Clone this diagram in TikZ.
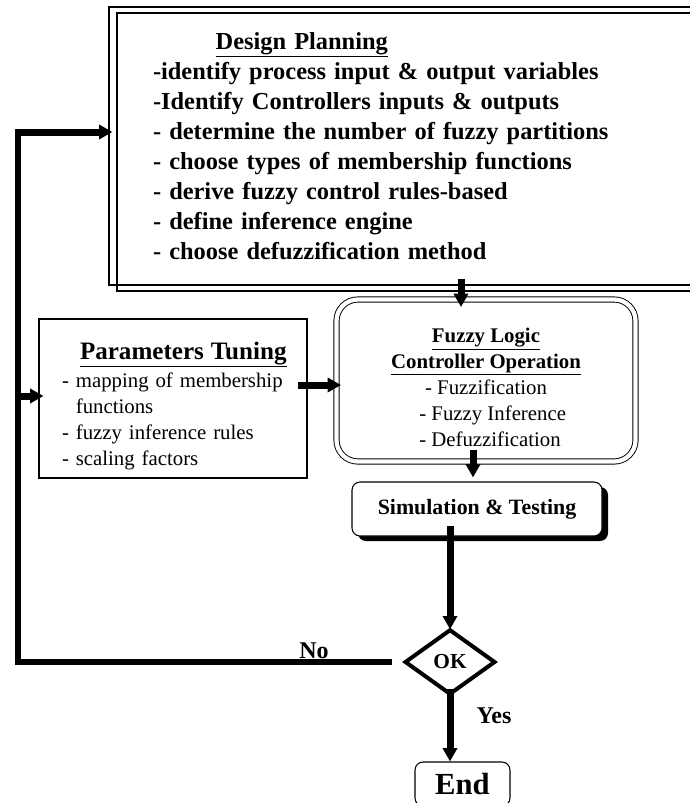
\documentclass[tikz,border=0pt]{standalone}
\usepackage{fontspec}
\setmainfont{Liberation Serif}
\usetikzlibrary{positioning,arrows.meta,shapes.geometric,shadows,calc}

\begin{document}
\begin{tikzpicture}[
  x=0.75pt, y=-0.75pt,
  bigtext/.style={font=\fontsize{18.3}{22.5}\selectfont\bfseries},
  midtext/.style={font=\fontsize{15.6}{19.5}\selectfont},
  planbox/.style={draw, line width=0.9pt, general shadow={draw, line width=0.9pt, shadow xshift=6pt, shadow yshift=-4.5pt}},
  tunebox/.style={draw, line width=0.8pt},
  flcbox/.style={draw, line width=0.7pt, double, double distance=3.2pt, rounded corners=16pt},
  simbox/.style={draw, line width=0.8pt, fill=white, rounded corners=6pt, general shadow={fill=black, shadow xshift=4.5pt, shadow yshift=-3.75pt}},
  okbox/.style={diamond, draw, line width=3pt, inner sep=0pt, minimum width=68pt, minimum height=49pt},
  flow/.style={-{Triangle[length=10pt,width=10.5pt]}, line width=5.25pt},
  loopline/.style={line width=5pt, line cap=rect}
]
  \useasboundingbox (0,0) rectangle (689,803);

  \node[planbox, bigtext, minimum width=443.25pt, minimum height=208.5pt, text width=377.25pt, inner xsep=33pt, align=left] (plan) at (404.5,146)
    {\hspace*{47pt}\underline{Design Planning}\\
     -identify process input \& output variables\\
     -Identify Controllers inputs \& outputs\\
     - determine the number of fuzzy partitions\\
     - choose types of membership functions\\
     - derive fuzzy control rules-based\\
     - define inference engine\\
     - choose defuzzification method};

  \node[tunebox, midtext, minimum width=201pt, minimum height=119.25pt, text width=166.5pt, inner xsep=17.25pt, align=left] (tune) at (173,398.5)
    {\rule{0pt}{24pt}\hspace*{13.5pt}{\fontsize{18.8}{22}\selectfont\bfseries\underline{Parameters Tuning}}\\[1.5pt]
     - mapping of \mbox{membership}\\
     \phantom{- }functions\\
     - fuzzy inference rules\\
     - scaling factors};

  \node[flcbox, midtext, minimum width=224.25pt, minimum height=121.5pt, align=center] (flc) at (486,380.5)
    {\rule{0pt}{21pt}\textbf{\underline{Fuzzy Logic}}\\
     \textbf{\underline{Controller Operation}}\\
     - Fuzzification\\
     \hspace*{10pt}- Fuzzy Inference\\
     \hspace*{6pt}- Defuzzification};

  \node[simbox, font=\fontsize{16.4}{19.5}\selectfont\bfseries, minimum width=187.5pt, minimum height=40.5pt] (sim) at (477,509) {Simulation \& Testing};

  \node[okbox, font=\fontsize{16}{18}\selectfont\bfseries] (ok) at (450,662) {OK};

  \node[draw, line width=0.8pt, rounded corners=6pt, minimum width=71.25pt, minimum height=33pt, font=\fontsize{23}{27}\selectfont\bfseries] (stop) at (462.5,784) {End};

  \node[font=\fontsize{18}{21}\selectfont\bfseries] (nolabel) at (314,651) {No};
  \node[font=\fontsize{18}{21}\selectfont\bfseries] (yeslabel) at (494,716) {Yes};

  % connectors
  \draw[flow] ($(flc.north |- plan.south)+(-25,-7)$) -- ($(flc.north)+(-25,8)$);
  \draw[flow] ($(tune.east |- flc.west)+(-10,4.5)$) -- ($(flc.west)+(5,4.5)$);
  \draw[flow] ($(sim.north |- flc.south)+(-4,-12)$) -- ($(sim.north)+(-4,-4)$);
  \draw[flow] ($(ok.north |- sim.south)+(0,-11)$) -- ($(ok.north)+(0,2)$);
  \draw[flow] ($(ok.south)+(0,-8)$) -- (ok.south |- stop.north);

  % way back when not OK
  \coordinate (lowturn) at (18,662);
  \coordinate (topturn) at (18,132);
  \draw[loopline] ($(ok.west)+(-14,0)$) -- (lowturn) -- (topturn);
  \draw[flow] (topturn) -- ($(topturn -| plan.west)+(4,0)$);
  \draw[flow] ($(topturn |- tune.west)+(0,-2.5)$) -- ($(tune.west)+(5,-2.5)$);
\end{tikzpicture}
\end{document}
